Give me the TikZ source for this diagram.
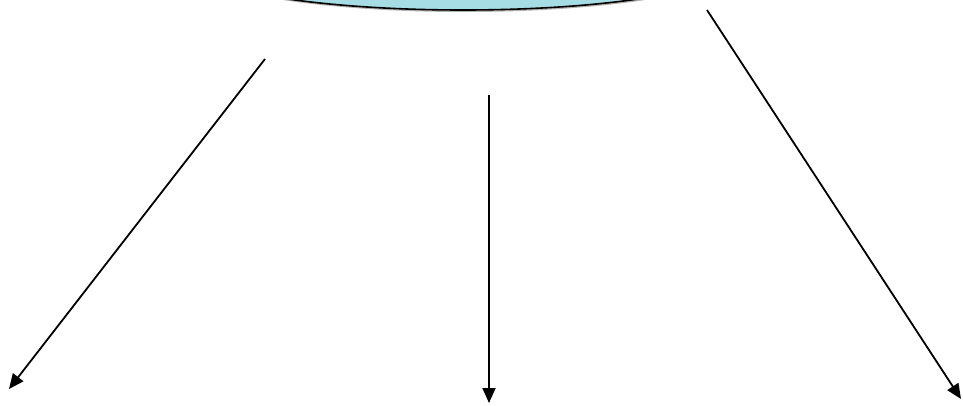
\documentclass[tikz,border=0pt]{standalone}
\usetikzlibrary{arrows.meta,shapes.geometric}
\definecolor{cyanfill}{HTML}{A6DCE4}
\begin{document}
\begin{tikzpicture}[x=1pt,y=-1pt,
  arr/.style={line width=1.8pt,-{Triangle[length=15pt,width=13pt]}},
  blob/.style={ellipse,draw=black,line width=1.6pt,fill=cyanfill,minimum width=560pt,minimum height=100pt,inner sep=0pt}]
\useasboundingbox (0,0) rectangle (963,405);
\begin{scope}
\clip (0,0) rectangle (963,405);
\fill[gray!60] (464,-39) ellipse [x radius=281, y radius=51];
\node[blob] (top) at (463,-40) {};
\end{scope}
\coordinate (s1) at (265,59);
\coordinate (e1) at (9,389);
\coordinate (s2) at (489,95);
\coordinate (e2) at (489,403);
\coordinate (s3) at (707,10);
\coordinate (e3) at (961,399);
\draw[arr] (s1) -- (e1);
\draw[arr] (s2) -- (e2);
\draw[arr] (s3) -- (e3);
\end{tikzpicture}
\end{document}
